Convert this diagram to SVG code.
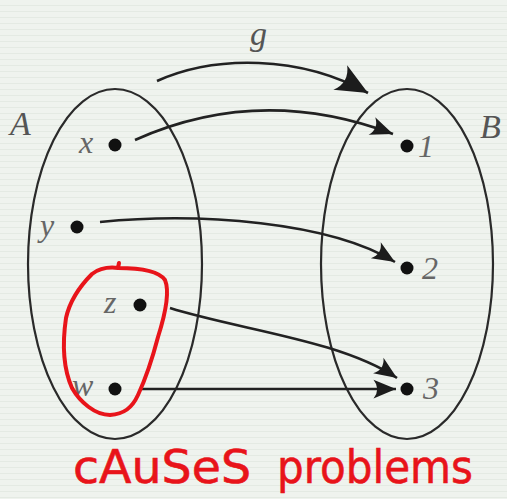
<svg xmlns="http://www.w3.org/2000/svg" width="507" height="499" viewBox="0 0 507 499">
<defs>
<pattern id="grid" width="507" height="6" patternUnits="userSpaceOnUse">
<rect width="507" height="6" fill="#eff3ee"/>
<rect y="5" width="507" height="1" fill="#e4eae3"/>
</pattern>
<marker id="ah" markerUnits="userSpaceOnUse" markerWidth="30" markerHeight="30" refX="0" refY="0" viewBox="-20 -10 24 20" orient="auto">
<path d="M0,0 L-18,-7.5 Q-12,0 -18,7.5 Z" fill="#1c1c1c"/>
</marker>
<marker id="ahbig" markerUnits="userSpaceOnUse" markerWidth="40" markerHeight="40" refX="0" refY="0" viewBox="-30 -15 34 30" orient="auto">
<path d="M0,0 L-27,-12 Q-18,0 -27,12 Z" fill="#1c1c1c"/>
</marker>
</defs>
<style>
.set{fill:none;stroke:#2a2a2a;stroke-width:2.2}
.dot{fill:#111}
.lbl{font-family:"Liberation Serif","DejaVu Serif",serif;font-style:italic;font-size:32px;fill:#666}
.setl{font-family:"Liberation Serif","DejaVu Serif",serif;font-style:italic;font-size:34px;fill:#555}
.arr{fill:none;stroke:#222;stroke-width:2.6;marker-end:url(#ah)}
.red{fill:none;stroke:#e8141a;stroke-width:4;stroke-linecap:round;stroke-linejoin:round}
.note{font-family:"DejaVu Sans","Noto Sans",sans-serif;font-size:46px;fill:#e8141a;stroke:#e8141a;stroke-width:0.6}
</style>
<rect width="507" height="499" fill="url(#grid)"/>
<g id="setA">
<ellipse class="set" cx="115" cy="264" rx="87" ry="175"/>
<text class="setl" x="10" y="135">A</text>
</g>
<g id="setB">
<ellipse class="set" cx="407" cy="264" rx="86" ry="175"/>
<text class="setl" x="480" y="138">B</text>
</g>
<g id="node-x"><circle class="dot" cx="115" cy="145" r="6.5"/><text class="lbl" x="79" y="153">x</text></g>
<g id="node-y"><circle class="dot" cx="77" cy="227" r="6.5"/><text class="lbl" x="40" y="236">y</text></g>
<g id="node-z"><circle class="dot" cx="140" cy="305" r="6.5"/><text class="lbl" x="104" y="313">z</text></g>
<g id="node-w"><circle class="dot" cx="115" cy="389" r="6.5"/><text class="lbl" x="72" y="396">w</text></g>
<g id="node-1"><circle class="dot" cx="407" cy="146" r="6.5"/><text class="lbl" x="418" y="157">1</text></g>
<g id="node-2"><circle class="dot" cx="407" cy="268" r="6.5"/><text class="lbl" x="422" y="279">2</text></g>
<g id="node-3"><circle class="dot" cx="407" cy="389" r="6.5"/><text class="lbl" x="423" y="399">3</text></g>
<g id="connectors">
<path d="M157,81 C215,55 300,55 368,93" fill="none" stroke="#222" stroke-width="2.6" marker-end="url(#ahbig)"/>
<text class="setl" x="250" y="45">g</text>
<path class="arr" d="M135,140 Q260,84 393,134"/>
<path class="arr" d="M100,222 C200,212 330,222 395,262"/>
<path class="arr" d="M170,308 C240,330 340,340 397,378"/>
<path class="arr" d="M140,389 L396,389"/>
</g>
<g id="annotation">
<path class="red" d="M118,268 C135,268 158,270 165,280 C170,292 165,315 158,337 C152,360 145,380 138,395 C132,408 124,414 110,415 C95,415 80,402 72,388 C64,370 62,345 66,318 C70,300 80,286 92,274 C100,268 110,267 118,268 M118,268 L119,263"/>
<text class="note" x="73" y="483" textLength="178" lengthAdjust="spacingAndGlyphs">cAuSeS</text>
<text class="note" x="277" y="483" textLength="196" lengthAdjust="spacingAndGlyphs">problems</text>
</g>
</svg>
